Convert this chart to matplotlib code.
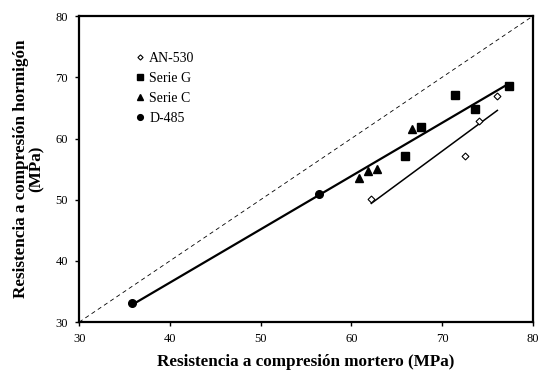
import numpy as np
import matplotlib
matplotlib.use("Agg")
import matplotlib.pyplot as plt

plt.rcParams['font.family'] = ['Liberation Serif', 'DejaVu Serif']

# datos (MPa)
an530_x = [62.2, 72.5, 74.1, 76.1]
an530_y = [50.1, 57.2, 62.8, 66.9]
serieG_x = [65.9, 67.7, 71.4, 73.6, 77.4]
serieG_y = [57.1, 61.9, 67.1, 64.8, 68.6]
serieC_x = [60.9, 61.8, 62.8, 66.7]
serieC_y = [53.5, 54.7, 55.0, 61.6]
d485_x = [35.8, 56.4]
d485_y = [33.1, 51.0]

# rectas de ajuste (extremos)
fit_all_x = [35.8, 77.4]
fit_all_y = [32.8, 69.0]
fit_an_x = [62.2, 76.1]
fit_an_y = [49.4, 64.6]

ticks = [30, 40, 50, 60, 70, 80]

fig = plt.figure(figsize=(5.42, 3.75), dpi=100)
ax = fig.add_axes([0.146, 0.141, 0.837, 0.816])

ax.plot([30, 80], [30, 80], color='black', ls=(0, (5, 4)), lw=0.6, zorder=1)
ax.plot(fit_all_x, fit_all_y, color='black', lw=1.6, zorder=2)
ax.plot(fit_an_x, fit_an_y, color='black', lw=1.1, zorder=2)

ax.plot(an530_x, an530_y, ls='none', marker='D', ms=3.5, mfc='white', mec='black', mew=0.8, label='AN-530', zorder=3)
ax.plot(serieG_x, serieG_y, ls='none', marker='s', ms=5.5, color='black', label='Serie G', zorder=3)
ax.plot(serieC_x, serieC_y, ls='none', marker='^', ms=5.5, color='black', label='Serie C', zorder=3)
ax.plot(d485_x, d485_y, ls='none', marker='o', ms=5.5, color='black', label='D-485', zorder=3)

ax.set_xlim(30, 80)
ax.set_ylim(30, 80)
ax.set_xticks(ticks)
ax.set_yticks(ticks)
ax.tick_params(direction='out', length=3, width=1, labelsize=9, pad=5)
for s in ax.spines.values():
    s.set_linewidth(1.6)

ax.set_xlabel('Resistencia a compresión mortero (MPa)', fontsize=12.3, fontweight='bold', labelpad=6)
ax.set_ylabel('Resistencia a compresión hormigón\n(MPa)', fontsize=12.3, fontweight='bold', labelpad=8,
              linespacing=0.95)

ax.legend(loc='upper left', bbox_to_anchor=(0.115, 0.9), frameon=False, fontsize=10,
          handlelength=0.5, handletextpad=0.4, labelspacing=0.5, borderaxespad=0, markerscale=0.75)

fig.savefig('out.png', dpi=100)
